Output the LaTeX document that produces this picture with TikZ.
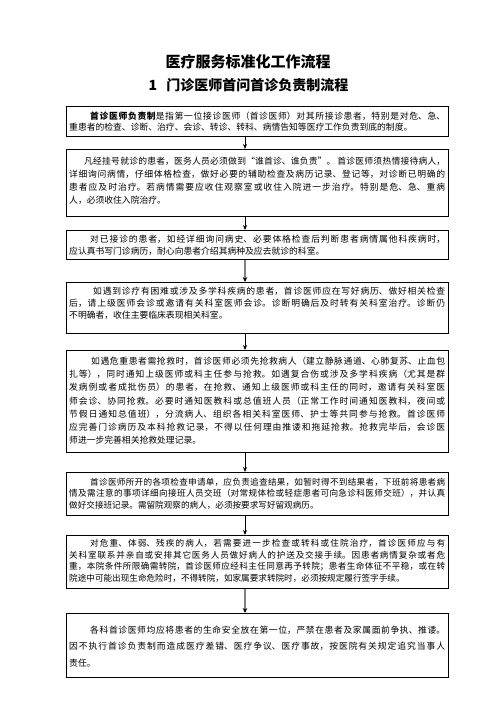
\documentclass[tikz,border=0pt]{standalone}
\usepackage{fontspec}
\setmainfont{Noto Sans CJK SC}
\XeTeXlinebreaklocale "zh"
\XeTeXlinebreakskip=0pt plus 2pt
\usetikzlibrary{arrows.meta}
\tikzset{
  box/.style={draw=black, line width=0.8pt, minimum width=382.5pt, inner sep=0pt, anchor=north west},
  txt/.style={anchor=base west, inner sep=0pt, text width=376pt, align=justify},
  arr/.style={draw=black, line width=0.8pt, -{Stealth[length=5pt,width=4pt]}},
  grayarr/.style={draw=black!50, line width=1.6pt, -{Stealth[length=5pt,width=4.5pt,color=black]}},
  ttl/.style={inner sep=0pt, font=\fontsize{15}{18}\selectfont\bfseries},
  sttl/.style={inner sep=0pt, font=\fontsize{14}{17}\selectfont\bfseries}
}
\begin{document}
\begin{tikzpicture}[x=1pt,y=-1pt]
\useasboundingbox (0,0) rectangle (496,702);
\fill[white] (0,0) rectangle (496,702);
\coordinate (ax) at (245,0);
\node[ttl] (title) at (248,62) {医疗服务标准化工作流程};
\node[sttl] (sub) at (248.5,85) {1\hspace{9pt}门诊医师首问首诊负责制流程};
% boxes
\node[box, minimum height=30pt] (b1) at (65.5,106) {};
\node[box, minimum height=67pt] (b2) at (65.5,149) {};
\node[box, minimum height=29pt] (b3) at (65.5,230) {};
\node[box, minimum height=51pt] (b4) at (65.5,282) {};
\node[box, minimum height=102pt] (b5) at (65.5,350) {};
\node[box, minimum height=43pt] (b6) at (65.5,472) {};
\node[box, minimum height=53pt] (b7) at (65.5,535) {};
\node[box, minimum height=64pt] (b8) at (65.5,613) {};
% texts
\node[txt, font=\fontsize{8.8}{11}\selectfont] (t1) at (69,119.4) {\hspace*{21pt}\textbf{首诊医师负责制}是指第一位接诊医师（首诊医师）对其所接诊患者，特别是对危、急、\linebreak
重患者的检查、诊断、治疗、会诊、转诊、转科、病情告知等医疗工作负责到底的制度。\parfillskip=0pt};
\node[txt, font=\fontsize{8.8}{13}\selectfont] (t2) at (69,164.4) {\hspace*{15pt}凡经挂号就诊的患者，医务人员必须做到“谁首诊、谁负责”。 首诊医师须热情接待病人，\linebreak
详细询问病情，仔细体格检查，做好必要的辅助检查及病历记录、登记等，对诊断已明确的\linebreak
患者应及时治疗。若病情需要应收住观察室或收住入院进一步治疗。特别是危、急、重病\linebreak
人，必须收住入院治疗。};
\node[txt, font=\fontsize{8.8}{11.5}\selectfont] (t3) at (69,242.6) {\hspace*{21pt}对已接诊的患者，如经详细询问病史、必要体格检查后判断患者病情属他科疾病时，\linebreak
应认真书写门诊病历，耐心向患者介绍其病种及应去就诊的科室。};
\node[txt, font=\fontsize{8.8}{12}\selectfont] (t4) at (69,294.4) {\hspace*{24pt}如遇到诊疗有困难或涉及多学科疾病的患者，首诊医师应在写好病历、做好相关检查\linebreak
后，请上级医师会诊或邀请有关科室医师会诊。诊断明确后及时转有关科室治疗。诊断仍\linebreak
不明确者，收住主要临床表现相关科室。};
\node[txt, font=\fontsize{8.8}{13.2}\selectfont] (t5) at (69,364.4) {\hspace*{22pt}如遇危重患者需抢救时，首诊医师必须先抢救病人（建立静脉通道、心肺复苏、止血包\linebreak
扎等），同时通知上级医师或科主任参与抢救。如遇复合伤或涉及多学科疾病（尤其是群\linebreak
发病例或者成批伤员）的患者，在抢救、通知上级医师或科主任的同时，邀请有关科室医\linebreak
师会诊、协同抢救。必要时通知医教科或总值班人员（正常工作时间通知医教科，夜间或\linebreak
节假日通知总值班），分流病人、组织各相关科室医师、护士等共同参与抢救。首诊医师\linebreak
应完善门诊病历及本科抢救记录，不得以任何理由推诿和拖延抢救。抢救完毕后，会诊医\linebreak
师进一步完善相关抢救处理记录。};
\node[txt, font=\fontsize{8.6}{11.5}\selectfont] (t6) at (69,485.4) {\hspace*{21pt}首诊医师所开的各项检查申请单，应负责追查结果，如暂时得不到结果者，下班前将患者病\linebreak
情及需注意的事项详细向接班人员交班（对常规体检或轻症患者可向急诊科医师交班），并认真\linebreak
做好交接班记录。需留院观察的病人，必须按要求写好留观病历。};
\node[txt, font=\fontsize{8.6}{11.7}\selectfont] (t7) at (69,546.4) {\hspace*{21pt}对危重、体弱、残疾的病人，若需要进一步检查或转科或住院治疗，首诊医师应与有\linebreak
关科室联系并亲自或安排其它医务人员做好病人的护送及交接手续。因患者病情复杂或者危\linebreak
重，本院条件所限确需转院，首诊医师应经科主任同意再予转院；患者生命体征不平稳，或在转\linebreak
院途中可能出现生命危险时，不得转院，如家属要求转院时，必须按规定履行签字手续。};
\node[txt, font=\fontsize{8.8}{16.5}\selectfont] (t8) at (69,633.4) {\hspace*{21pt}各科首诊医师均应将患者的生命安全放在第一位，严禁在患者及家属面前争执、推诿。\linebreak
因不执行首诊负责制而造成医疗差错、医疗争议、医疗事故，按医院有关规定追究当事人\linebreak
责任。};
% arrows
\draw[arr] (b1.south -| ax) -- (b2.north -| ax);
\draw[arr] (b2.south -| ax) -- (b3.north -| ax);
\draw[grayarr] (b3.south -| ax) -- (b4.north -| ax);
\draw[arr] (b4.south -| ax) -- (b5.north -| ax);
\draw[arr] (b5.south -| ax) -- (b6.north -| ax);
\draw[arr] (b6.south -| ax) -- (b7.north -| ax);
\draw[grayarr] (b7.south -| ax) -- (b8.north -| ax);
\end{tikzpicture}
\end{document}
